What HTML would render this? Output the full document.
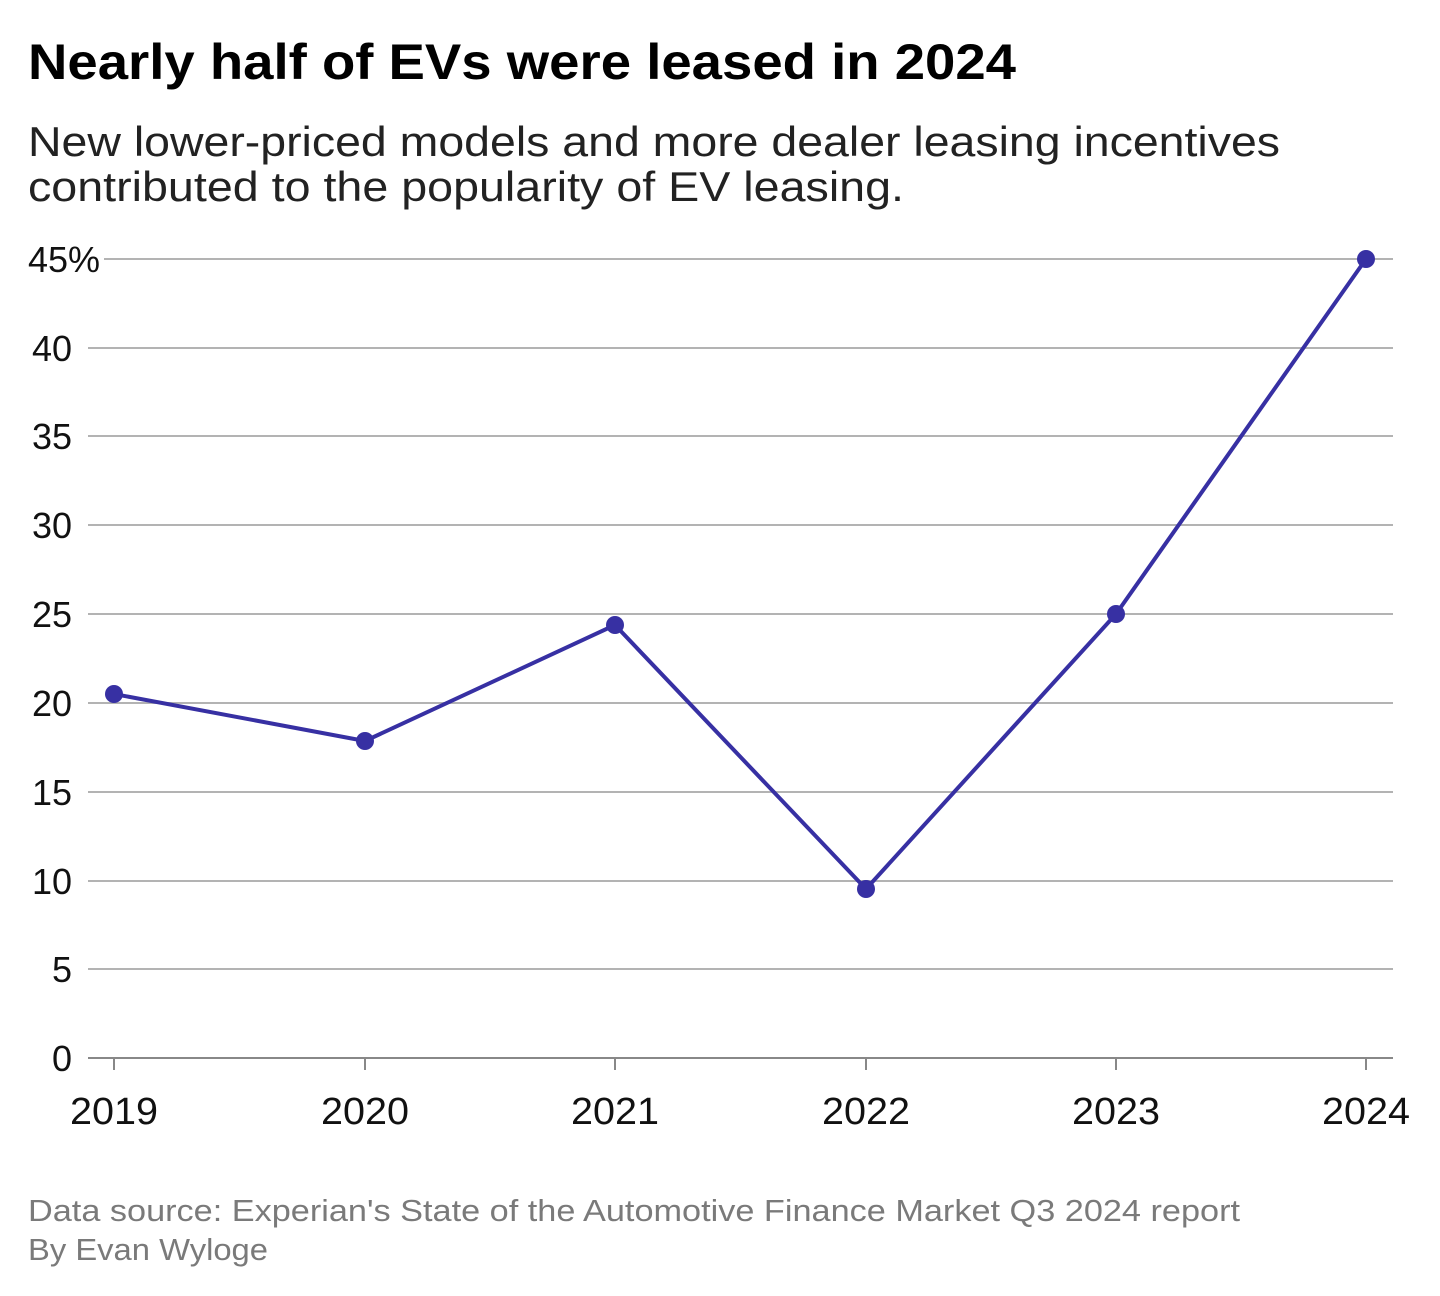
<!DOCTYPE html>
<html><head><meta charset="utf-8"><style>
html,body{margin:0;padding:0;background:#fff;}
svg{display:block;}
</style></head><body>
<svg width="1440" height="1296" viewBox="0 0 1440 1296" xmlns="http://www.w3.org/2000/svg" font-family="Liberation Sans, sans-serif">
<text x="28" y="79" font-size="50" font-weight="bold" fill="#000" textLength="988" lengthAdjust="spacingAndGlyphs">Nearly half of EVs were leased in 2024</text>
<text x="28" y="156" font-size="42" fill="#222" textLength="1252" lengthAdjust="spacingAndGlyphs">New lower-priced models and more dealer leasing incentives</text>
<text x="28" y="201" font-size="42" fill="#222" textLength="876" lengthAdjust="spacingAndGlyphs">contributed to the popularity of EV leasing.</text>
<g stroke="#b3b3b3" stroke-width="2">
<line x1="104" x2="1393" y1="259" y2="259"/>
<line x1="88" x2="1393" y1="348" y2="348"/>
<line x1="88" x2="1393" y1="436" y2="436"/>
<line x1="88" x2="1393" y1="525" y2="525"/>
<line x1="88" x2="1393" y1="614" y2="614"/>
<line x1="88" x2="1393" y1="703" y2="703"/>
<line x1="88" x2="1393" y1="792" y2="792"/>
<line x1="88" x2="1393" y1="881" y2="881"/>
<line x1="88" x2="1393" y1="969" y2="969"/>
</g>
<line x1="88" x2="1393" y1="1058" y2="1058" stroke="#888" stroke-width="2"/>
<g stroke="#888" stroke-width="2">
<line x1="114" x2="114" y1="1058" y2="1070"/>
<line x1="365" x2="365" y1="1058" y2="1070"/>
<line x1="615" x2="615" y1="1058" y2="1070"/>
<line x1="866" x2="866" y1="1058" y2="1070"/>
<line x1="1116" x2="1116" y1="1058" y2="1070"/>
<line x1="1366" x2="1366" y1="1058" y2="1070"/>
</g>
<g font-size="36" fill="#111" text-anchor="end">
<text x="100" y="272">45%</text>
<text x="72" y="361">40</text>
<text x="72" y="449">35</text>
<text x="72" y="538">30</text>
<text x="72" y="627">25</text>
<text x="72" y="716">20</text>
<text x="72" y="805">15</text>
<text x="72" y="894">10</text>
<text x="72" y="982">5</text>
<text x="72" y="1071">0</text>
</g>
<g font-size="38" fill="#111" text-anchor="middle">
<text x="114" y="1124" textLength="88" lengthAdjust="spacingAndGlyphs">2019</text>
<text x="365" y="1124" textLength="88" lengthAdjust="spacingAndGlyphs">2020</text>
<text x="615" y="1124" textLength="88" lengthAdjust="spacingAndGlyphs">2021</text>
<text x="866" y="1124" textLength="88" lengthAdjust="spacingAndGlyphs">2022</text>
<text x="1116" y="1124" textLength="88" lengthAdjust="spacingAndGlyphs">2023</text>
<text x="1366" y="1124" textLength="88" lengthAdjust="spacingAndGlyphs">2024</text>
</g>
<polyline points="114,694 365,741 615,625 866,889 1116,614 1366,259" fill="none" stroke="#3730a3" stroke-width="4" stroke-linejoin="round"/>
<g fill="#3730a3">
<circle cx="114" cy="694" r="9"/>
<circle cx="365" cy="741" r="9"/>
<circle cx="615" cy="625" r="9"/>
<circle cx="866" cy="889" r="9"/>
<circle cx="1116" cy="614" r="9"/>
<circle cx="1366" cy="259" r="9"/>
</g>
<text x="28" y="1221" font-size="31" fill="#7a7a7a" textLength="1212" lengthAdjust="spacingAndGlyphs">Data source: Experian's State of the Automotive Finance Market Q3 2024 report</text>
<text x="28" y="1260" font-size="31" fill="#7a7a7a" textLength="240" lengthAdjust="spacingAndGlyphs">By Evan Wyloge</text>
</svg>
</body></html>
